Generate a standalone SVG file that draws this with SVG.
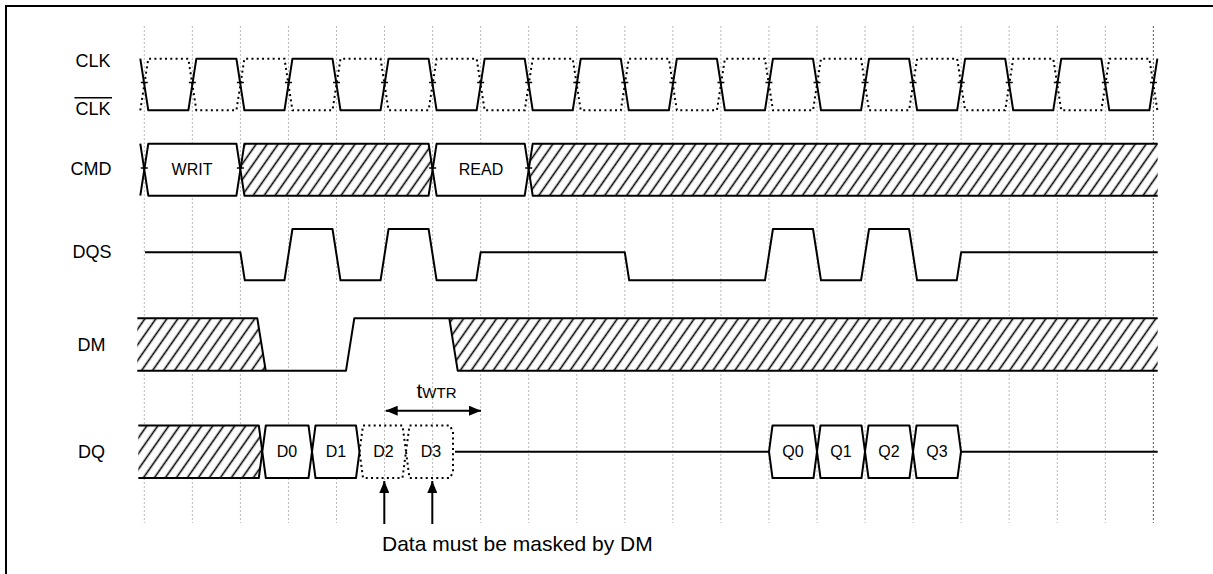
<svg xmlns="http://www.w3.org/2000/svg" width="1213" height="574" viewBox="0 0 1213 574">
<style>
text{font-family:"Liberation Sans",Arial,sans-serif;fill:#000}
.lbl{font-size:18px;text-anchor:middle}
.box{font-size:16px;text-anchor:middle}
.grid{stroke:#b8b8b8;stroke-width:1;stroke-dasharray:2 2;fill:none}
.w{stroke:#000;stroke-width:2;fill:none;stroke-linejoin:round}
.dot{stroke:#000;stroke-width:2;fill:none;stroke-dasharray:2 3.3}
.bus{stroke:#000;stroke-width:2;fill:#fff;stroke-linejoin:round}
.hat{fill:url(#hatch);stroke:none}
.tick{stroke:#000;stroke-width:1.5}
</style>
<defs>
<pattern id="hatch" patternUnits="userSpaceOnUse" width="9" height="9" patternTransform="rotate(35)">
<rect width="9" height="9" fill="#fff"/>
<line x1="4.5" y1="-1" x2="4.5" y2="10" stroke="#000" stroke-width="1.6"/>
</pattern>
<marker id="ah" viewBox="0 0 12 10" refX="12" refY="5" markerWidth="12" markerHeight="10" markerUnits="userSpaceOnUse" orient="auto-start-reverse">
<path d="M0,0 L12,5 L0,10 Z" fill="#000"/>
</marker>
</defs>
<rect width="1213" height="574" fill="#fff"/>
<rect x="6" y="6" width="1215" height="580" fill="none" stroke="#000" stroke-width="2"/>

<g id="grid">
<path class="grid" d="M144.3,26V523M192.35,26V523M240.4,26V523M288.45,26V523M336.5,26V523M384.55,26V523M432.6,26V523M480.65,26V523M528.7,26V523M576.75,26V523M624.8,26V523M672.85,26V523M720.9,26V523M768.95,26V523M817,26V523M865.05,26V523M913.1,26V523M961.15,26V523M1009.2,26V523M1057.25,26V523M1105.3,26V523"/>
<path d="M1153.35,26V523" stroke="#555" stroke-width="1" stroke-dasharray="2 2"/>
</g>

<g id="labels">
<text class="lbl" x="93" y="66.5">CLK</text>
<text class="lbl" x="93" y="115">CLK</text>
<line x1="74.5" y1="97.7" x2="112" y2="97.7" stroke="#000" stroke-width="1.5"/>
<text class="lbl" x="91" y="175">CMD</text>
<text class="lbl" x="92" y="257.5">DQS</text>
<text class="lbl" x="91.5" y="350.5">DM</text>
<text class="lbl" x="91.5" y="458">DQ</text>
</g>

<g id="clk">
<path class="w" d="M140.3,58.7 L148.3,110.3 H188.35 L196.35,58.7 H236.4 L244.4,110.3 H284.45 L292.45,58.7 H332.5 L340.5,110.3 H380.55 L388.55,58.7 H428.6 L436.6,110.3 H476.65 L484.65,58.7 H524.7 L532.7,110.3 H572.75 L580.75,58.7 H620.8 L628.8,110.3 H668.85 L676.85,58.7 H716.9 L724.9,110.3 H764.95 L772.95,58.7 H813 L821,110.3 H861.05 L869.05,58.7 H909.1 L917.1,110.3 H957.15 L965.15,58.7 H1005.2 L1013.2,110.3 H1053.25 L1061.25,58.7 H1101.3 L1109.3,110.3 H1149.35 L1157.35,58.7"/>
<path class="dot" d="M140.3,110.3 L148.3,58.7 H188.35 L196.35,110.3 H236.4 L244.4,58.7 H284.45 L292.45,110.3 H332.5 L340.5,58.7 H380.55 L388.55,110.3 H428.6 L436.6,58.7 H476.65 L484.65,110.3 H524.7 L532.7,58.7 H572.75 L580.75,110.3 H620.8 L628.8,58.7 H668.85 L676.85,110.3 H716.9 L724.9,58.7 H764.95 L772.95,110.3 H813 L821,58.7 H861.05 L869.05,110.3 H909.1 L917.1,58.7 H957.15 L965.15,110.3 H1005.2 L1013.2,58.7 H1053.25 L1061.25,110.3 H1101.3 L1109.3,58.7 H1149.35 L1157.35,110.3"/>
<path class="tick" d="M140.8,82.5h7M188.85,82.5h7M236.9,82.5h7M284.95,82.5h7M333,82.5h7M381.05,82.5h7M429.1,82.5h7M477.15,82.5h7M525.2,82.5h7M573.25,82.5h7M621.3,82.5h7M669.35,82.5h7M717.4,82.5h7M765.45,82.5h7M813.5,82.5h7M861.55,82.5h7M909.6,82.5h7M957.65,82.5h7M1005.7,82.5h7M1053.75,82.5h7M1101.8,82.5h7M1149.85,82.5h7"/>
</g>

<g id="cmd">
<path class="w" d="M140.3,143.7 L144.3,169.7 L140.3,195.7"/>
<polygon class="bus" points="144.3,169.7 148.3,143.7 236.4,143.7 240.4,169.7 236.4,195.7 148.3,195.7"/>
<polygon class="hat" points="240.4,169.7 244.4,143.7 428.6,143.7 432.6,169.7 428.6,195.7 244.4,195.7"/>
<polygon class="w" points="240.4,169.7 244.4,143.7 428.6,143.7 432.6,169.7 428.6,195.7 244.4,195.7"/>
<polygon class="bus" points="432.6,169.7 436.6,143.7 524.7,143.7 528.7,169.7 524.7,195.7 436.6,195.7"/>
<path class="hat" d="M1157.7,143.7 H532.7 L528.7,169.7 L532.7,195.7 H1157.7 Z"/>
<path class="w" d="M1157.7,143.7 H532.7 L528.7,169.7 L532.7,195.7 H1157.7"/>
<path class="tick" d="M140.8,168h7M236.9,168h7M429.1,168h7M525.2,168h7"/>
<text class="box" x="192" y="175">WRIT</text>
<text class="box" x="481" y="175">READ</text>
</g>

<g id="dqs">
<path class="w" d="M145,252.3 H240.4 L244.8,280.3 H284.45 L292.45,229 H332.5 L340.5,280.3 H380.55 L388.55,229 H428.6 L436.6,280.3 H476.25 L480.65,252.3 H624.8 L629.2,280.3 H764.95 L772.95,229 H813 L821,280.3 H861.05 L869.05,229 H909.1 L917.1,280.3 H956.75 L961.15,252.3 H1157.7"/>
</g>

<g id="dm">
<polygon class="hat" points="137.3,318.3 257.3,318.3 265.7,370.7 137.3,370.7"/>
<polygon class="hat" points="449.3,318.3 1157.7,318.3 1157.7,370.7 457.7,370.7"/>
<path class="w" d="M137.3,318.3 H257.3 L265.7,370.7 H346 L354.3,318.3 H1157.7"/>
<path class="w" d="M137.3,370.7 H265.7"/>
<path class="w" d="M449.3,318.3 L457.7,370.7 H1157.7"/>
</g>

<g id="dq">
<path class="hat" d="M138.3,425.5 H258.8 L262.3,451.7 L258.8,478 H138.3 Z"/>
<path class="w" d="M138.3,425.5 H258.8 L262.3,451.7 L258.8,478 H138.3"/>
<polygon class="bus" points="262.3,451.7 265.8,425.5 308.5,425.5 312,451.7 308.5,478 265.8,478"/>
<polygon class="bus" points="312,451.7 315.5,425.5 356,425.5 359.5,451.7 356,478 315.5,478"/>
<polygon class="dot" points="359.5,451.7 363,425.5 402.5,425.5 406,451.7 402.5,478 363,478"/>
<polygon class="dot" points="406,451.7 409.5,425.5 450,425.5 453,432 453,472 450,478 409.5,478"/>
<path class="w" d="M455,451.7 H769"/>
<polygon class="bus" points="769,451.7 772.5,425.5 813.5,425.5 817,451.7 813.5,478 772.5,478"/>
<polygon class="bus" points="817,451.7 820.5,425.5 861.5,425.5 865,451.7 861.5,478 820.5,478"/>
<polygon class="bus" points="865,451.7 868.5,425.5 909.5,425.5 913,451.7 909.5,478 868.5,478"/>
<polygon class="bus" points="913,451.7 916.5,425.5 957.5,425.5 961,451.7 957.5,478 916.5,478"/>
<path class="w" d="M961,451.7 H1157.7"/>
<text class="box" x="287" y="457">D0</text>
<text class="box" x="336" y="457">D1</text>
<text class="box" x="383.5" y="457">D2</text>
<text class="box" x="431" y="457">D3</text>
<text class="box" x="793" y="457">Q0</text>
<text class="box" x="841" y="457">Q1</text>
<text class="box" x="889" y="457">Q2</text>
<text class="box" x="937" y="457">Q3</text>
</g>

<g id="connectors">
<line x1="385.7" y1="410.7" x2="481" y2="410.7" stroke="#000" stroke-width="2" marker-start="url(#ah)" marker-end="url(#ah)"/>
<line x1="384.3" y1="524" x2="384.3" y2="481" stroke="#000" stroke-width="2" marker-end="url(#ah)"/>
<line x1="432.3" y1="524" x2="432.3" y2="481" stroke="#000" stroke-width="2" marker-end="url(#ah)"/>
</g>

<g id="annotations">
<text x="416.5" y="398.3"><tspan font-size="21">t</tspan><tspan font-size="15">WTR</tspan></text>
<text x="382" y="551" font-size="21">Data must be masked by DM</text>
</g>
</svg>
